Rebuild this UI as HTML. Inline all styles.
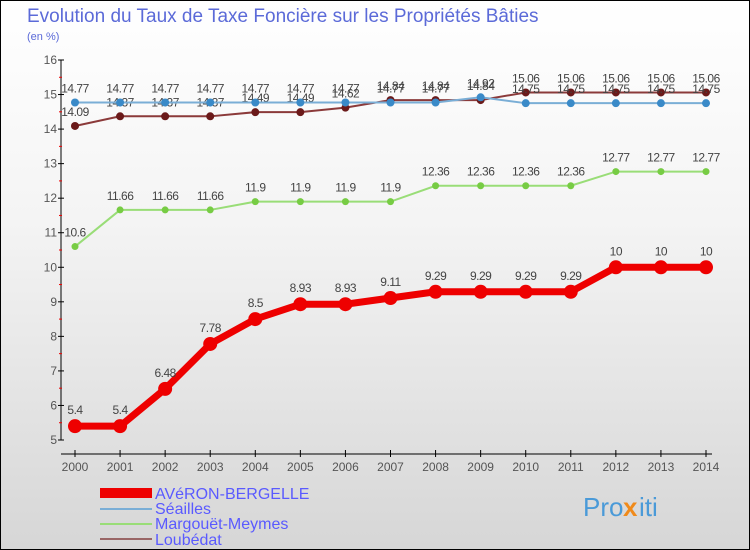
<!DOCTYPE html>
<html><head><meta charset="utf-8"><style>
body{margin:0;width:750px;height:550px;overflow:hidden;font-family:"Liberation Sans","DejaVu Sans",sans-serif}
#root{position:absolute;left:0;top:0;width:748px;height:548px;border:1px solid #000;background:linear-gradient(#fff 0%,#f4f4f4 40%,#d6d6d6 100%)}
</style></head><body>
<div id="root">
<svg id="svg" width="750" height="550" style="position:absolute;left:-1px;top:-1px">
<text x="27" y="22" font-size="19" fill="#5b6ad8">Evolution du Taux de Taxe Foncière sur les Propriétés Bâties</text>
<text x="27" y="40" font-size="11" fill="#5b6ad8">(en %)</text>
<g id="axes"></g><g id="series"></g>
<g id="legend" font-size="16" fill="#5a5aff">
<rect x="100" y="488" width="52" height="10" fill="#e00"/>
<text x="155" y="499" fill="#5a5aff">AVéRON-BERGELLE</text>
<rect x="100" y="508" width="52" height="2" fill="#7aaed6"/>
<text x="155" y="514" fill="#5a5aff">Séailles</text>
<rect x="100" y="523" width="52" height="2" fill="#99dd77"/>
<text x="155" y="529" fill="#5a5aff">Margouët-Meymes</text>
<rect x="100" y="538" width="52" height="2" fill="#996666"/>
<text x="155" y="545" fill="#5a5aff">Loubédat</text>
</g>
<g font-size="26">
<text x="583" y="516" fill="#4a9ad8">Pro</text><text x="623" y="516" fill="#f08a1a" font-weight="bold">x</text><text x="639" y="516" fill="#4a9ad8">iti</text>
</g>
</svg>
</div>
<script>
const years=[2000,2001,2002,2003,2004,2005,2006,2007,2008,2009,2010,2011,2012,2013,2014];
const averon=[5.4,5.4,6.48,7.78,8.5,8.93,8.93,9.11,9.29,9.29,9.29,9.29,10,10,10];
const seailles=[14.77,14.77,14.77,14.77,14.77,14.77,14.77,14.77,14.77,14.92,14.75,14.75,14.75,14.75,14.75];
const margouet=[10.6,11.66,11.66,11.66,11.9,11.9,11.9,11.9,12.36,12.36,12.36,12.36,12.77,12.77,12.77];
const loubedat=[14.09,14.37,14.37,14.37,14.49,14.49,14.62,14.84,14.84,14.84,15.06,15.06,15.06,15.06,15.06];
const yTicks=[5,6,7,8,9,10,11,12,13,14,15,16];
const NS='http://www.w3.org/2000/svg';
const x0=75,x1=706,yTop=60,yBot=440,vMin=5,vMax=16;
function xs(i){return x0+(x1-x0)*i/(years.length-1);}
function ys(v){return yBot-(v-vMin)/(vMax-vMin)*(yBot-yTop);}
function mk(t,a,p){const e=document.createElementNS(NS,t);for(const k in a)e.setAttribute(k,a[k]);p.appendChild(e);return e;}
const ax=document.getElementById('axes');
const ya=mk('line',{x1:61,y1:yTop,x2:61,y2:yBot,stroke:'#000'},ax);


const xa=mk('line',{x1:61,y1:454,x2:712,y2:454,stroke:'#000'},ax);


yTicks.forEach(v=>{
  mk('line',{x1:58,x2:64,y1:ys(v),y2:ys(v),stroke:'#000'},ax);
  if(v<16)mk('line',{x1:59,x2:62,y1:ys(v+0.5),y2:ys(v+0.5),stroke:'#e00'},ax);
  const t=mk('text',{x:57,y:ys(v)+4,'text-anchor':'end','font-size':12,fill:'#555'},ax);t.textContent=v;
  
  
});
years.forEach((y,i)=>{
  mk('line',{x1:xs(i),x2:xs(i),y1:450,y2:457,stroke:'#000'},ax);
  const t=mk('text',{x:xs(i),y:471,'text-anchor':'middle','font-size':12,fill:'#555'},ax);t.textContent=y;
  
  
});
const sg=document.getElementById('series');
function series(vals,name,line,dot,lw,r,off){
  const g=mk('g',{},sg);
  
  
  mk('polyline',{points:vals.map((v,i)=>xs(i)+','+ys(v)).join(' '),fill:'none',stroke:line,'stroke-width':lw},g);
  vals.forEach((v,i)=>{
    const c=mk('circle',{cx:xs(i),cy:ys(v),r:r,fill:dot},g);
    
    
    const t=mk('text',{x:xs(i),y:ys(v)+off,'text-anchor':'middle','font-size':12,fill:'#444','letter-spacing':'-0.5'},g);t.textContent=v;
    
    
  });
}
series(margouet,'margouet-series','#99dd77','#77cc44',2,3.5,-10);
series(loubedat,'loubedat-series','#8b3a3a','#6b1a1a',2,4,-10);
series(seailles,'seailles-series','#7aaed6','#3a8ac8',2,4,-10);
series(averon,'averon-series','#e00','#e00',7,7,-12);
</script>
</body></html>
